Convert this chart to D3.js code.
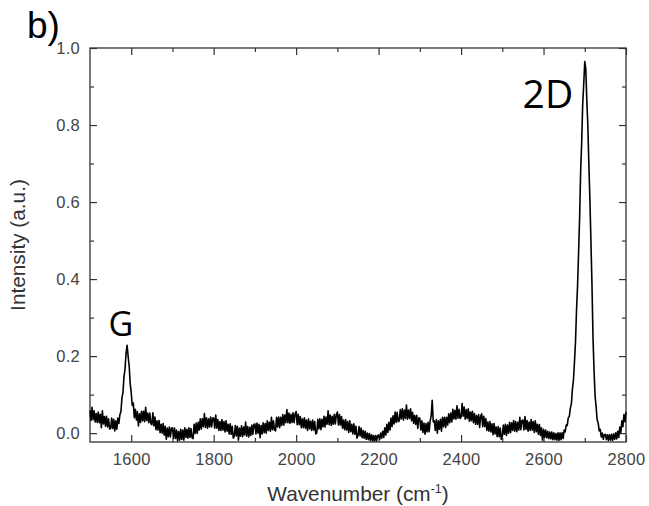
<!DOCTYPE html>
<head>
<meta charset="utf-8">
<script src="https://d3js.org/d3.v7.min.js"></script>
<style>
body { margin: 0; background: #fff; }
svg { font-family: Arial, "Liberation Sans", sans-serif; }
.tick text { fill: #444; font-size: 16.5px; letter-spacing: 0.3px; }
.tick line { stroke: #333; stroke-width: 1.2; }
.domain { display: none; }
</style>
</head>
<body>
<svg id="chart" width="649" height="506"></svg>
<script>

// Raman spectrum, every 2.5 cm-1
var wavenumber = [
	1500,1502.5,1505,1507.5,1510,1512.5,1515,1517.5,1520,1522.5,1525,1527.5,1530,1532.5,1535,1537.5,1540,1542.5,1545,1547.5,
	1550,1552.5,1555,1557.5,1560,1562.5,1565,1567.5,1570,1572.5,1575,1577.5,1580,1582.5,1585,1587.5,1590,1592.5,1595,1597.5,
	1600,1602.5,1605,1607.5,1610,1612.5,1615,1617.5,1620,1622.5,1625,1627.5,1630,1632.5,1635,1637.5,1640,1642.5,1645,1647.5,
	1650,1652.5,1655,1657.5,1660,1662.5,1665,1667.5,1670,1672.5,1675,1677.5,1680,1682.5,1685,1687.5,1690,1692.5,1695,1697.5,
	1700,1702.5,1705,1707.5,1710,1712.5,1715,1717.5,1720,1722.5,1725,1727.5,1730,1732.5,1735,1737.5,1740,1742.5,1745,1747.5,
	1750,1752.5,1755,1757.5,1760,1762.5,1765,1767.5,1770,1772.5,1775,1777.5,1780,1782.5,1785,1787.5,1790,1792.5,1795,1797.5,
	1800,1802.5,1805,1807.5,1810,1812.5,1815,1817.5,1820,1822.5,1825,1827.5,1830,1832.5,1835,1837.5,1840,1842.5,1845,1847.5,
	1850,1852.5,1855,1857.5,1860,1862.5,1865,1867.5,1870,1872.5,1875,1877.5,1880,1882.5,1885,1887.5,1890,1892.5,1895,1897.5,
	1900,1902.5,1905,1907.5,1910,1912.5,1915,1917.5,1920,1922.5,1925,1927.5,1930,1932.5,1935,1937.5,1940,1942.5,1945,1947.5,
	1950,1952.5,1955,1957.5,1960,1962.5,1965,1967.5,1970,1972.5,1975,1977.5,1980,1982.5,1985,1987.5,1990,1992.5,1995,1997.5,
	2000,2002.5,2005,2007.5,2010,2012.5,2015,2017.5,2020,2022.5,2025,2027.5,2030,2032.5,2035,2037.5,2040,2042.5,2045,2047.5,
	2050,2052.5,2055,2057.5,2060,2062.5,2065,2067.5,2070,2072.5,2075,2077.5,2080,2082.5,2085,2087.5,2090,2092.5,2095,2097.5,
	2100,2102.5,2105,2107.5,2110,2112.5,2115,2117.5,2120,2122.5,2125,2127.5,2130,2132.5,2135,2137.5,2140,2142.5,2145,2147.5,
	2150,2152.5,2155,2157.5,2160,2162.5,2165,2167.5,2170,2172.5,2175,2177.5,2180,2182.5,2185,2187.5,2190,2192.5,2195,2197.5,
	2200,2202.5,2205,2207.5,2210,2212.5,2215,2217.5,2220,2222.5,2225,2227.5,2230,2232.5,2235,2237.5,2240,2242.5,2245,2247.5,
	2250,2252.5,2255,2257.5,2260,2262.5,2265,2267.5,2270,2272.5,2275,2277.5,2280,2282.5,2285,2287.5,2290,2292.5,2295,2297.5,
	2300,2302.5,2305,2307.5,2310,2312.5,2315,2317.5,2320,2322.5,2325,2327.5,2330,2332.5,2335,2337.5,2340,2342.5,2345,2347.5,
	2350,2352.5,2355,2357.5,2360,2362.5,2365,2367.5,2370,2372.5,2375,2377.5,2380,2382.5,2385,2387.5,2390,2392.5,2395,2397.5,
	2400,2402.5,2405,2407.5,2410,2412.5,2415,2417.5,2420,2422.5,2425,2427.5,2430,2432.5,2435,2437.5,2440,2442.5,2445,2447.5,
	2450,2452.5,2455,2457.5,2460,2462.5,2465,2467.5,2470,2472.5,2475,2477.5,2480,2482.5,2485,2487.5,2490,2492.5,2495,2497.5,
	2500,2502.5,2505,2507.5,2510,2512.5,2515,2517.5,2520,2522.5,2525,2527.5,2530,2532.5,2535,2537.5,2540,2542.5,2545,2547.5,
	2550,2552.5,2555,2557.5,2560,2562.5,2565,2567.5,2570,2572.5,2575,2577.5,2580,2582.5,2585,2587.5,2590,2592.5,2595,2597.5,
	2600,2602.5,2605,2607.5,2610,2612.5,2615,2617.5,2620,2622.5,2625,2627.5,2630,2632.5,2635,2637.5,2640,2642.5,2645,2647.5,
	2650,2652.5,2655,2657.5,2660,2662.5,2665,2667.5,2670,2672.5,2675,2677.5,2680,2682.5,2685,2687.5,2690,2692.5,2695,2697.5,
	2700,2702.5,2705,2707.5,2710,2712.5,2715,2717.5,2720,2722.5,2725,2727.5,2730,2732.5,2735,2737.5,2740,2742.5,2745,2747.5,
	2750,2752.5,2755,2757.5,2760,2762.5,2765,2767.5,2770,2772.5,2775,2777.5,2780,2782.5,2785,2787.5,2790,2792.5,2795,2797.5,
	2800
];
var intensity = [
	.059,.033,.067,.035,.058,.029,.051,.028,.055,.027,.049,.014,.058,.024,.043,.018,.044,.016,.037,.011,
	.012,.039,.012,.036,.006,.032,.010,.039,.025,.048,.056,.092,.106,.147,.167,.209,.228,.199,.175,.128,
	.105,.072,.078,.040,.062,.034,.056,.019,.050,.028,.057,.032,.057,.030,.067,.033,.052,.027,.052,.025,
	.022,.053,.019,.042,.009,.032,.008,.033,.001,.023,.000,.025,-.005,.018,-.016,.013,-.009,.016,-.010,.013,
	.014,-.014,.013,-.014,.008,-.020,.004,-.018,.010,-.016,.008,-.018,.014,-.011,.010,-.013,.014,-.011,.012,-.012,
	-.014,.023,-.001,.026,-.001,.028,.008,.037,.011,.037,.017,.051,.015,.040,.013,.037,.016,.042,.016,.039,
	.039,.013,.047,.013,.035,.007,.030,.007,.035,.008,.030,.003,.032,.005,.023,-.002,.024,-.003,.018,-.013,
	-.008,.020,-.007,.018,-.018,.013,-.008,.019,-.009,.016,-.005,.029,-.008,.017,-.010,.015,-.006,.021,-.003,.022,
	.024,-.002,.026,.000,.023,-.012,.020,-.002,.027,.001,.025,.000,.032,.007,.028,.005,.041,.009,.032,.008,
	.006,.041,.016,.042,.014,.041,.020,.048,.021,.047,.027,.061,.027,.052,.025,.049,.028,.053,.027,.050,
	.056,.022,.049,.022,.043,.014,.037,.014,.040,.013,.034,.007,.037,.011,.031,.007,.034,.008,.030,-.002,
	.001,.036,.011,.037,.009,.036,.016,.044,.016,.042,.023,.058,.022,.047,.020,.044,.023,.049,.024,.048,
	.055,.021,.048,.021,.043,.013,.034,.009,.035,.008,.030,.002,.032,.004,.023,-.002,.024,-.003,.018,-.013,
	-.006,.017,-.007,.013,-.012,.007,-.013,.005,-.016,.000,-.017,-.001,-.019,-.004,-.020,-.006,-.021,-.006,-.020,-.006,
	-.005,-.016,.000,-.013,.005,-.011,.014,-.005,.023,.002,.028,.008,.039,.017,.045,.024,.055,.028,.054,.030,
	.032,.061,.037,.063,.034,.060,.038,.073,.036,.060,.038,.063,.032,.054,.025,.046,.023,.046,.012,.040,
	.038,.008,.032,.002,.026,-.003,.025,.003,.028,.004,.032,.045,.085,.030,.032,.007,.035,.000,.032,.010,
	.036,.005,.041,.017,.041,.015,.041,.021,.050,.027,.052,.029,.062,.037,.059,.036,.071,.039,.062,.038,
	.042,.077,.044,.068,.036,.061,.038,.063,.031,.055,.032,.057,.027,.051,.023,.046,.023,.048,.015,.044,
	.050,.017,.044,.017,.038,.007,.029,.005,.030,.003,.024,-.004,.025,-.002,.016,-.009,.017,-.009,.013,-.016,
	-.008,.021,-.003,.023,-.006,.021,.000,.028,.001,.027,.007,.033,.005,.030,.004,.028,.008,.041,.009,.033,
	.034,.008,.043,.010,.033,.005,.029,.007,.035,.008,.030,.002,.032,.004,.023,-.003,.022,-.006,.014,-.018,
	.010,-.011,.008,-.012,.005,-.014,.003,-.015,.003,-.017,.001,-.017,-.001,-.018,.001,-.019,.001,-.017,.001,-.014,
	.008,.003,.021,.020,.040,.043,.065,.076,.114,.137,.184,.237,.319,.382,.469,.560,.680,.754,.855,.907,
	.965,.945,.862,.797,.694,.605,.495,.384,.246,.163,.097,.069,.034,.027,.006,.010,-.010,.000,-.016,-.004,
	-.003,-.017,-.004,-.019,-.004,-.018,-.003,-.019,-.002,-.016,.001,-.015,.005,-.011,.016,.002,.032,.017,.048,.030,
	.055
];

var xMajor = [1600, 1800, 2000, 2200, 2400, 2600, 2800];
var xMinor = [1700, 1900, 2100, 2300, 2500, 2700];
var yMajor = [0, 0.2, 0.4, 0.6, 0.8, 1.0];
var yMinor = [0.1, 0.3, 0.5, 0.7, 0.9];

var peaks = [
	{label: "G", at: 1575, level: 0.252, anchor: "middle"},
	{label: "2D", at: 2672, level: 0.845, anchor: "end"}
];

var svg = d3.select("#chart"),
	margin = {top: 48, left: 90, bottom: 64, right: 23},
	width = +svg.attr("width") - margin.left - margin.right,
	height = +svg.attr("height") - margin.top - margin.bottom;

var x = d3.scaleLinear().domain([1500, 2800]).range([margin.left, margin.left + width]);
var y = d3.scaleLinear().domain([-0.023, 1.0]).range([margin.top + height, margin.top]);

var data = wavenumber.map((w, i) => ({w: w, v: intensity[i]}));

// ticks all point inwards, majors longer
svg.append("g").attr("transform", `translate(0,${margin.top + height})`)
	.call(d3.axisBottom(x).tickValues(xMajor).tickSize(-7).tickPadding(11).tickFormat(d3.format("d")));
svg.append("g").attr("transform", `translate(0,${margin.top + height})`)
	.call(d3.axisBottom(x).tickValues(xMinor).tickSize(-4).tickFormat(""));
svg.append("g").attr("transform", `translate(0,${margin.top})`)
	.call(d3.axisTop(x).tickValues(xMajor).tickSize(-7).tickFormat(""));
svg.append("g").attr("transform", `translate(0,${margin.top})`)
	.call(d3.axisTop(x).tickValues(xMinor).tickSize(-4).tickFormat(""));

svg.append("g").attr("transform", `translate(${margin.left},0)`)
	.call(d3.axisLeft(y).tickValues(yMajor).tickSize(-7).tickPadding(10).tickFormat(d3.format(".1f")));
svg.append("g").attr("transform", `translate(${margin.left},0)`)
	.call(d3.axisLeft(y).tickValues(yMinor).tickSize(-4).tickFormat(""));
svg.append("g").attr("transform", `translate(${margin.left + width},0)`)
	.call(d3.axisRight(y).tickValues(yMajor).tickSize(-7).tickFormat(""));
svg.append("g").attr("transform", `translate(${margin.left + width},0)`)
	.call(d3.axisRight(y).tickValues(yMinor).tickSize(-4).tickFormat(""));

svg.append("rect")
	.attr("x", margin.left).attr("y", margin.top)
	.attr("width", width).attr("height", height)
	.attr("fill", "none").attr("stroke", "#333").attr("stroke-width", 1.3);

var line = d3.line().x(d => x(d.w)).y(d => y(d.v));

svg.append("path")
	.datum(data)
	.attr("fill", "none")
	.attr("stroke", "#000")
	.attr("stroke-width", 1.6)
	.attr("stroke-linejoin", "round")
	.attr("d", line);

// peak labels
svg.selectAll(".peak").data(peaks).enter().append("text")
	.attr("class", "peak")
	.attr("x", d => x(d.at))
	.attr("y", d => y(d.level))
	.attr("text-anchor", d => d.anchor)
	.style("font-family", "'Open Sans', 'Noto Sans', sans-serif")
	.style("font-size", d => d.label == "G" ? "34px" : "39px")
	.attr("fill", "#000")
	.text(d => d.label);

// axis titles
var xt = svg.append("text")
	.attr("x", margin.left + width / 2).attr("y", 501)
	.attr("text-anchor", "middle")
	.attr("fill", "#333")
	.style("font-size", "20.8px");
xt.append("tspan").text("Wavenumber (cm");
xt.append("tspan").attr("dy", -8).style("font-size", "12.5px").text("-1");
xt.append("tspan").attr("dy", 8).text(")");

svg.append("text")
	.attr("transform", `translate(25,${margin.top + height / 2}) rotate(-90)`)
	.attr("text-anchor", "middle")
	.attr("fill", "#333")
	.style("font-size", "20.8px")
	.text("Intensity (a.u.)");

svg.append("text")
	.attr("x", 27).attr("y", 38)
	.attr("fill", "#000")
	.style("font-size", "37px")
	.text("b)");

</script>
</body>
</html>
